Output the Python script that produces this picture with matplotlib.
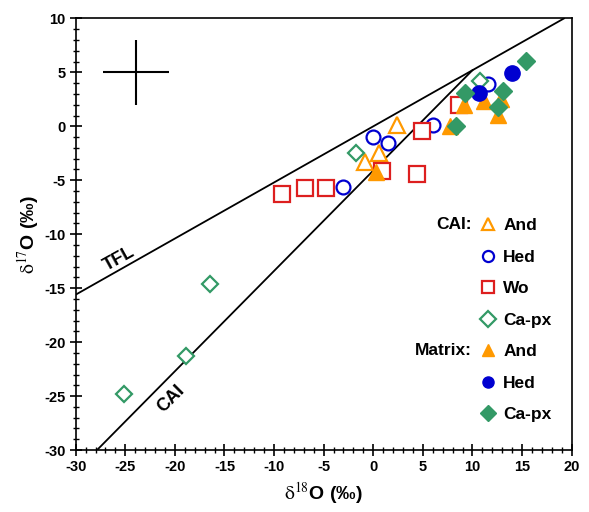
import matplotlib
matplotlib.use('Agg')
import matplotlib.pyplot as plt
from matplotlib.ticker import MultipleLocator
import numpy as np

plt.rcParams['font.family'] = ['Liberation Sans', 'DejaVu Sans']
plt.rcParams['mathtext.fontset'] = 'stix'
plt.rcParams['axes.unicode_minus'] = False

# CAI (open symbols)
cai_and_x = [2.4, 0.6, -0.85]
cai_and_y = [0.1, -2.45, -3.3]
cai_hed_x = [0.0, 1.45, -3.0, 6.0, 11.6]
cai_hed_y = [-1.0, -1.5, -5.6, 0.1, 3.9]
cai_wo_x = [-9.2, -6.9, -4.8, 0.85, 4.4, 4.9, 8.6]
cai_wo_y = [-6.3, -5.75, -5.75, -4.1, -4.4, -0.45, 1.95]
cai_cpx_x = [-1.75, 10.75, -16.5, -18.9, -25.1]
cai_cpx_y = [-2.5, 4.2, -14.6, -21.3, -24.8]

# matrix (filled symbols)
mat_and_x = [0.25, 7.7, 9.1, 11.2, 12.9, 12.6]
mat_and_y = [-4.2, 0.0, 2.0, 2.35, 2.5, 1.05]
mat_hed_x = [13.95, 10.7]
mat_hed_y = [4.95, 3.05]
mat_cpx_x = [15.4, 9.25, 13.1, 12.6, 8.3]
mat_cpx_y = [6.1, 3.05, 3.3, 1.75, 0.05]

# reference lines
tfl_slope, tfl_icpt = 0.52, 0.0
cai_slope, cai_icpt = 0.93, -4.1

# typical error
err_x, err_y = -23.9, 5.0
err_dx, err_dy = 3.3, 3.0

orange = '#FF9900'
blue = '#0000D0'
red = '#DD1F1F'
green = '#339966'

fig = plt.figure(figsize=(5.89, 5.12), dpi=100)
ax = fig.add_axes([0.1285, 0.121, 0.842, 0.843])

# lines
xt = np.array([-30, (10 - tfl_icpt) / tfl_slope])
ax.plot(xt, tfl_slope * xt + tfl_icpt, color='black', lw=1.3, zorder=1)
x_int = (tfl_icpt - cai_icpt) / (cai_slope - tfl_slope)
xc = np.array([(-30 - cai_icpt) / cai_slope, x_int])
ax.plot(xc, cai_slope * xc + cai_icpt, color='black', lw=1.3, zorder=1)

ax.errorbar([err_x], [err_y], xerr=[err_dx], yerr=[err_dy], fmt='none',
            ecolor='black', elinewidth=1.5, capsize=0)

mew = 1.6
h1, = ax.plot(cai_and_x, cai_and_y, '^', ms=12, mfc='white', mec=orange, mew=mew, ls='none', label='And')
h2, = ax.plot(cai_hed_x, cai_hed_y, 'o', ms=10, mfc='white', mec=blue, mew=mew, ls='none', label='Hed')
h3, = ax.plot(cai_wo_x, cai_wo_y, 's', ms=12, mfc='white', mec=red, mew=mew, ls='none', label='Wo')
h4, = ax.plot(cai_cpx_x, cai_cpx_y, 'D', ms=8, mfc='white', mec=green, mew=mew, ls='none', label='Ca-px')
h5, = ax.plot(mat_and_x, mat_and_y, '^', ms=12, color=orange, ls='none', label='And')
h6, = ax.plot(mat_hed_x, mat_hed_y, 'o', ms=11, color=blue, ls='none', label='Hed')
h7, = ax.plot(mat_cpx_x, mat_cpx_y, 'D', ms=9, color=green, ls='none', label='Ca-px')

leg = ax.legend(handles=[h1, h2, h3, h4, h5, h6, h7], loc='upper left',
                bbox_to_anchor=(0.79, 0.565), frameon=False, handlelength=1.0,
                handletextpad=0.35, labelspacing=0.94, borderpad=0.2,
                prop={'weight': 'bold', 'size': 12.5})
for lh in leg.legend_handles:
    lh.set_markersize(8)
ax.text(0.799, 0.5235, 'CAI:', transform=ax.transAxes, ha='right', va='center',
        fontsize=12.5, fontweight='bold')
ax.text(0.799, 0.230, 'Matrix:', transform=ax.transAxes, ha='right', va='center',
        fontsize=12.5, fontweight='bold')

ax.text(-25.6, -12.3, 'TFL', rotation=29, ha='center', va='center',
        fontsize=13, fontweight='bold')
ax.text(-20.4, -25.3, 'CAI', rotation=45, ha='center', va='center',
        fontsize=13, fontweight='bold')

ax.set_xlim(-30, 20)
ax.set_ylim(-30, 10)
ax.xaxis.set_major_locator(MultipleLocator(5))
ax.xaxis.set_minor_locator(MultipleLocator(1))
ax.yaxis.set_major_locator(MultipleLocator(5))
ax.yaxis.set_minor_locator(MultipleLocator(1))
ax.tick_params(which='major', direction='inout', length=8, width=1.2, labelsize=10.5)
ax.tick_params(which='minor', direction='inout', length=4, width=1)
for lab in ax.get_xticklabels() + ax.get_yticklabels():
    lab.set_fontweight('bold')
for sp in ax.spines.values():
    sp.set_linewidth(1.2)

ax.set_xlabel(r'$\mathrm{\delta}^{18}$O (‰)', fontsize=14, fontweight='bold', labelpad=4)
ax.set_ylabel(r'$\mathrm{\delta}^{17}$O (‰)', fontsize=14, fontweight='bold', labelpad=2)

fig.savefig('out.png', dpi=100)
